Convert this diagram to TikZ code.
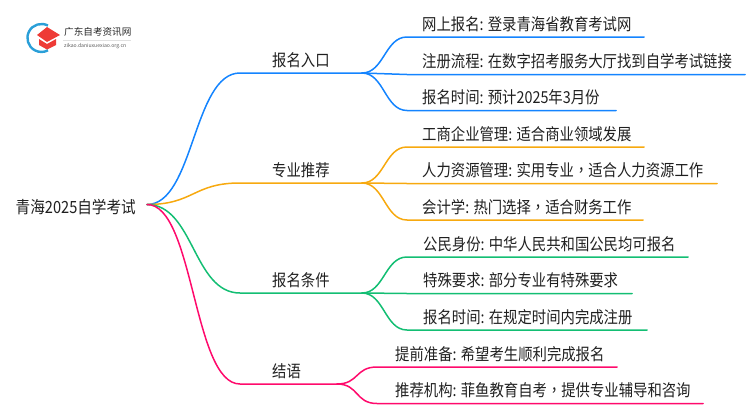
\documentclass[tikz,border=0pt]{standalone}
\usepackage{fontspec}
\setmainfont[FakeStretch=0.87]{Noto Sans CJK SC}
\newfontfamily\tcf[FakeStretch=0.87]{Noto Sans CJK TC}
\newfontfamily\logof{Noto Sans CJK SC}
\newcommand{\cmm}{{\tcf ，}}
\begin{document}
\begin{tikzpicture}[x=1pt,y=-1pt,
  lab/.style={anchor=base west,inner sep=0pt,font=\fontsize{16.5}{17}\selectfont,text=black!88},
  link/.style={line width=1.5pt,line cap=round},
]
\useasboundingbox (0,0) rectangle (750,410);
\definecolor{cb}{HTML}{1484FF}
\definecolor{co}{HTML}{F7A90F}
\definecolor{cg}{HTML}{13BE73}
\definecolor{cp}{HTML}{FF0A6C}
\definecolor{logob}{HTML}{2A9FD8}
\definecolor{logor}{HTML}{EE3B36}
% logo
\draw[logob,line width=2.4pt] (48,25.6) arc[start angle=-62,end angle=-298,radius=14];
\fill[logor] (47,27) -- (60,35) -- (47,42) -- (37,35) -- cycle;
\fill[logor] (39,39) -- (47,44) -- (56,39) -- (56,45) -- (47,49.5) -- (39,45) -- cycle;
\node[anchor=west,inner sep=0pt,font=\logof\fontsize{9.6}{10}\selectfont,text=black!85] (logot) at (64,31.5) {广东自考资讯网};
\coordinate (rulea) at (63,40);
\coordinate (ruleb) at (131,40);
\draw[black!12,line width=.5pt] (rulea) -- (ruleb);
\node[anchor=west,inner sep=0pt,font=\logof\fontsize{5.1}{6}\selectfont,text=black!65] (logou) at (64,46.5) {zikao.daniuxuexiao.org.cn};
% root
\coordinate (o) at (147,204.5);
\node[lab,font=\fontsize{16.8}{17}\selectfont] (root) at (15.5,213.5) {青海2025自学考试};
\foreach \n/\y/\e/\c/\t in {
a/73/362/cb/报名入口, b/183/362/co/专业推荐, c/293/362/cg/报名条件, d/384/337/cp/结语}{
  \coordinate (\n s) at (240,\y);
  \coordinate (\n e) at (\e,\y);
  \node[lab] (\n t) at (272,\y-7) {\t};
  \draw[link,\c] (o) .. controls +(47,0) and +(-47,0) .. (\n s) -- (\n e);
}
\foreach \n/\p/\x/\tx/\y/\e/\c/\t in {
a1/a/407/422/37/644/cb/网上报名: 登录青海省教育考试网,
a2/a/407/422/74.5/745/cb/注册流程: 在数字招考服务大厅找到自学考试链接,
a3/a/407/422/110.5/616/cb/报名时间: 预计2025年3月份,
b1/b/407/422/147/644/co/工商企业管理: 适合商业领域发展,
b2/b/407/422/183.5/717/co/人力资源管理: 实用专业\cmm 适合人力资源工作,
b3/b/407/422/220/643/co/会计学: 热门选择\cmm 适合财务工作,
c1/c/407/423/257/688/cg/公民身份: 中华人民共和国公民均可报名,
c2/c/407/423/293.5/632/cg/特殊要求: 部分专业有特殊要求,
c3/c/407/423/330/647/cg/报名时间: 在规定时间内完成注册,
d1/d/377/395/367/617/cp/提前准备: 希望考生顺利完成报名,
d2/d/377/395/403.5/703/cp/推荐机构: 菲鱼教育自考\cmm 提供专业辅导和咨询}{
  \coordinate (\n s) at (\x,\y);
  \coordinate (\n e) at (\e,\y);
  \node[lab] (\n t) at (\tx,\y-7) {\t};
  \draw[link,\c] (\p e) .. controls +(22,0) and +(-22,0) .. (\n s) -- (\n e);
}
\end{tikzpicture}
\end{document}
